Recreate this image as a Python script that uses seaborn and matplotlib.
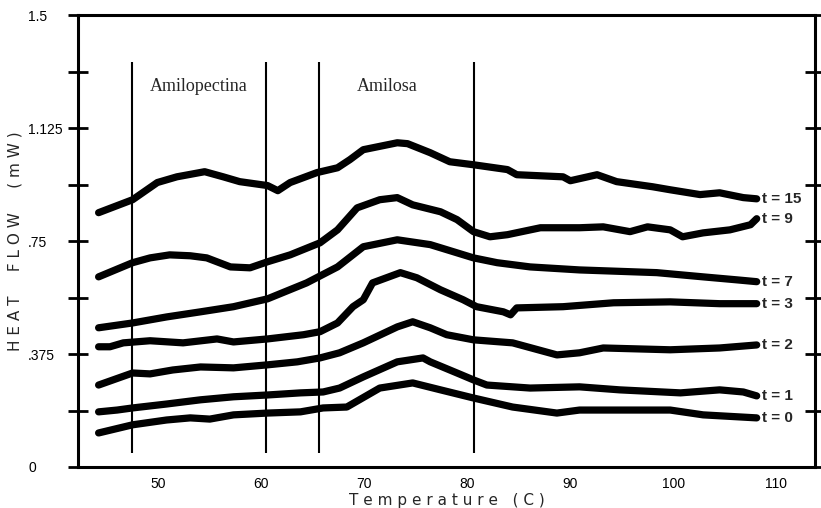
import numpy as np
import pandas as pd
import seaborn as sns
import matplotlib.pyplot as plt
from matplotlib.ticker import FixedLocator

# DSC curves (temperature in C, heat flow in mW)
temp_t15 = [44.2, 47.5, 49.9, 51.8, 54.5, 56.3, 57.9, 60.6, 61.6, 62.8, 65.4, 67.4, 68.6, 69.9, 73.2, 74.2,
            76.4, 78.3, 80.6, 83.9, 84.8, 89.3, 90.0, 92.6, 94.5, 98.0, 99.7, 102.6, 104.5, 106.8, 108.1]
flow_t15 = [0.844, 0.887, 0.944, 0.963, 0.980, 0.963, 0.947, 0.934, 0.917, 0.944, 0.977, 0.993, 1.020, 1.053,
            1.076, 1.073, 1.043, 1.013, 1.003, 0.987, 0.970, 0.963, 0.950, 0.970, 0.947, 0.930, 0.920, 0.904,
            0.910, 0.894, 0.890]

temp_t9 = [44.2, 47.5, 49.2, 51.1, 53.1, 54.7, 57.0, 58.9, 60.6, 62.8, 65.7, 67.4, 69.3, 71.5, 73.2, 74.7,
           77.4, 79.0, 80.6, 82.2, 83.9, 87.1, 90.9, 93.2, 95.8, 97.5, 99.7, 100.9, 102.9, 105.5, 107.5, 108.1]
flow_t9 = [0.631, 0.678, 0.694, 0.704, 0.701, 0.694, 0.664, 0.661, 0.681, 0.704, 0.744, 0.787, 0.860, 0.887,
           0.894, 0.870, 0.847, 0.821, 0.781, 0.764, 0.771, 0.794, 0.794, 0.797, 0.781, 0.797, 0.787, 0.764,
           0.777, 0.787, 0.804, 0.824]

temp_t7 = [44.2, 47.5, 50.8, 54.1, 57.3, 60.6, 64.4, 67.4, 69.9, 73.2, 76.4, 80.6, 82.9, 86.1, 90.9, 98.4,
           102.9, 106.2, 108.1]
flow_t7 = [0.462, 0.478, 0.498, 0.515, 0.532, 0.558, 0.611, 0.664, 0.731, 0.754, 0.738, 0.694, 0.678, 0.664,
           0.654, 0.645, 0.631, 0.621, 0.615]

temp_t3 = [44.2, 45.3, 46.6, 49.2, 52.4, 55.7, 57.3, 60.6, 64.1, 65.7, 67.4, 68.9, 69.9, 70.8, 73.5, 75.1,
           77.4, 79.6, 80.9, 83.5, 84.2, 84.8, 89.3, 94.2, 99.7, 104.5, 108.1]
flow_t3 = [0.399, 0.399, 0.412, 0.419, 0.412, 0.425, 0.415, 0.425, 0.439, 0.449, 0.478, 0.532, 0.555, 0.611,
           0.645, 0.628, 0.588, 0.555, 0.532, 0.515, 0.505, 0.528, 0.532, 0.545, 0.548, 0.542, 0.542]

temp_t2 = [44.2, 47.5, 49.2, 51.4, 54.1, 57.3, 60.6, 63.5, 65.7, 67.6, 69.9, 73.2, 74.7, 76.4, 78.0, 80.6,
           84.4, 88.7, 90.9, 93.2, 99.7, 104.5, 108.1]
flow_t2 = [0.272, 0.312, 0.309, 0.322, 0.332, 0.329, 0.339, 0.349, 0.362, 0.379, 0.412, 0.465, 0.482, 0.462,
           0.439, 0.422, 0.412, 0.372, 0.379, 0.395, 0.389, 0.395, 0.405]

temp_t1 = [44.2, 46.0, 47.5, 50.8, 54.1, 57.3, 60.6, 63.8, 66.0, 67.6, 69.9, 73.2, 75.7, 76.4, 79.0, 80.6,
           81.9, 86.1, 90.9, 94.8, 100.7, 104.5, 106.8, 108.1]
flow_t1 = [0.183, 0.189, 0.196, 0.209, 0.223, 0.233, 0.239, 0.246, 0.249, 0.262, 0.299, 0.349, 0.362, 0.349,
           0.312, 0.289, 0.272, 0.262, 0.266, 0.256, 0.246, 0.256, 0.249, 0.236]

temp_t0 = [44.2, 47.5, 50.8, 53.1, 55.0, 57.3, 60.6, 63.8, 66.0, 68.3, 71.5, 74.7, 77.4, 80.6, 84.4, 88.7,
           90.9, 99.7, 102.9, 108.1]
flow_t0 = [0.113, 0.140, 0.156, 0.163, 0.159, 0.173, 0.179, 0.183, 0.196, 0.199, 0.262, 0.279, 0.256, 0.229,
           0.199, 0.179, 0.189, 0.189, 0.173, 0.163]

series_labels = ['t = 15', 't = 9', 't = 7', 't = 3', 't = 2', 't = 1', 't = 0']
series_temps = [temp_t15, temp_t9, temp_t7, temp_t3, temp_t2, temp_t1, temp_t0]
series_flows = [flow_t15, flow_t9, flow_t7, flow_t3, flow_t2, flow_t1, flow_t0]

# region boundaries (C) and names
region_bounds = [47.45, 60.46, 65.60, 80.65]
region_names = ['Amilopectina', 'Amilosa']
region_centers = [53.95, 72.2]

x_ticks = [50, 60, 70, 80, 90, 100, 110]
y_ticks = [0, 0.375, 0.75, 1.125, 1.5]
y_ticklabels = ['0', '.375', '.75', '1.125', '1.5']
y_minor = [0.1875, 0.5625, 0.9375, 1.3125]

rows = []
for lab, tt, ff in zip(series_labels, series_temps, series_flows):
    for t, f in zip(tt, ff):
        rows.append({'series': lab, 'temp': t, 'flow': f})
df = pd.DataFrame(rows)

sns.set_style('white')
plt.rcParams['font.family'] = ['Liberation Sans', 'DejaVu Sans']

fig = plt.figure(figsize=(8.21, 5.08), dpi=100)
ax = fig.add_axes([78 / 821, 41 / 508, 737 / 821, 452 / 508])

sns.lineplot(data=df, x='temp', y='flow', units='series', estimator=None, sort=False,
             color='black', linewidth=5.2, solid_capstyle='round', solid_joinstyle='round',
             legend=False, ax=ax)

ax.vlines(region_bounds, 0.047, 1.345, color='black', linewidth=1.5)
for name, xc in zip(region_names, region_centers):
    ax.text(xc, 1.262, name, ha='center', va='center', fontsize=13,
            family=['Liberation Serif', 'DejaVu Serif'])

for lab, tt, ff in zip(series_labels, series_temps, series_flows):
    ax.annotate(lab, xy=(tt[-1], ff[-1]), xytext=(3.5, 0), textcoords='offset points',
                ha='left', va='center', fontsize=11, fontweight='bold')

ax.set_xlim(42.2, 113.76)
ax.set_ylim(0, 1.5)

ax.set_xticks(x_ticks)
ax.set_xticklabels([str(v) for v in x_ticks])
ax.set_yticks(y_ticks)
ax.set_yticklabels(y_ticklabels)
ax.yaxis.set_minor_locator(FixedLocator(y_minor))

ax.tick_params(axis='x', length=0, pad=7, labelsize=10, colors='black')
ax.tick_params(axis='y', which='both', direction='inout', length=15, width=2,
               left=True, right=True, colors='black')
ax.tick_params(axis='y', which='major', pad=28.5, labelsize=10)
for lbl in ax.get_yticklabels():
    lbl.set_horizontalalignment('left')

for side in ['left', 'right', 'top', 'bottom']:
    ax.spines[side].set_visible(True)
    ax.spines[side].set_color('black')
    ax.spines[side].set_linewidth(2.2)

ax.set_xlabel('T e m p e r a t u r e   ( C )', fontsize=11, family=['DejaVu Sans'])
ax.xaxis.set_label_coords(0.5, -0.057)
ax.set_ylabel('H E A T     F L O W     ( m W )', fontsize=11, family=['DejaVu Sans'], labelpad=4)

fig.savefig('out.png', dpi=100)
